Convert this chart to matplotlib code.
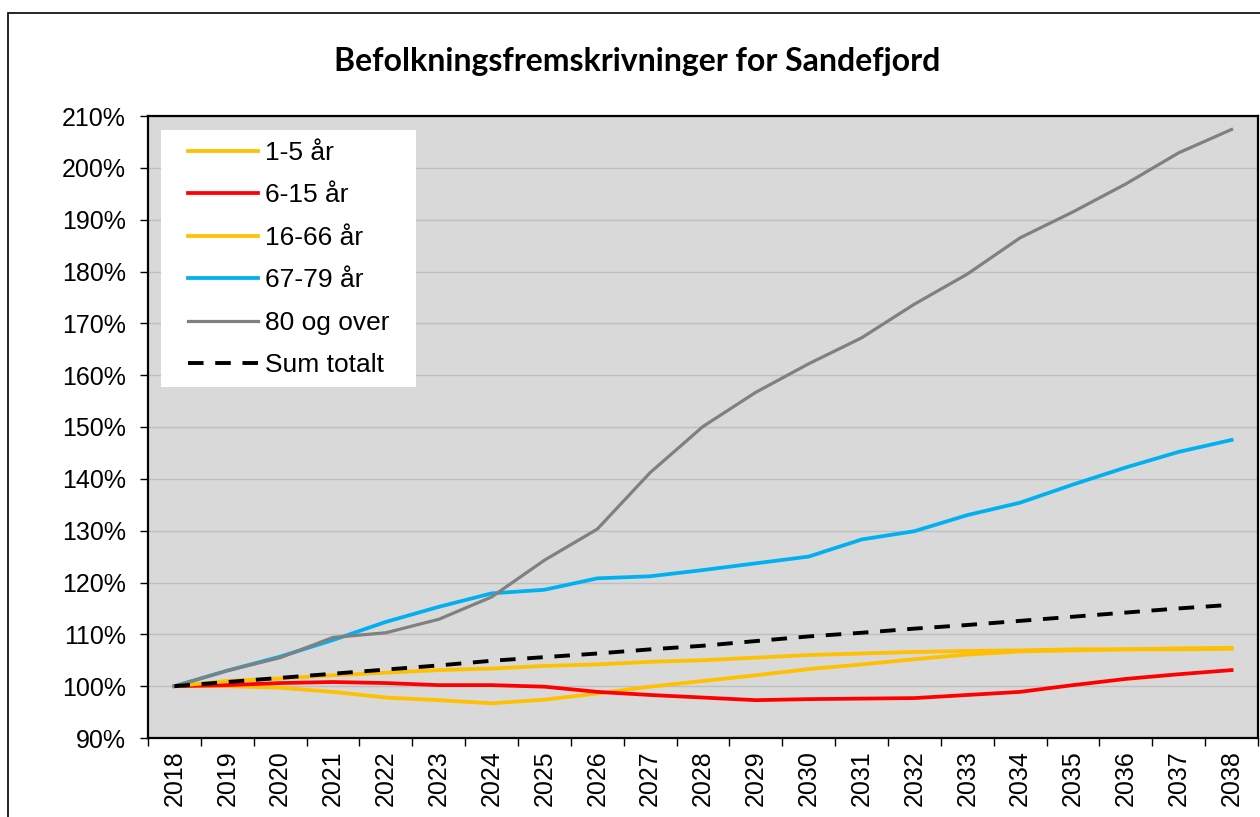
import matplotlib
matplotlib.use('Agg')
import matplotlib.pyplot as plt
import matplotlib.ticker as mticker
from matplotlib.patches import Rectangle
from matplotlib.transforms import IdentityTransform

# ── Data (percent of 2018 level) ──
years = list(range(2018, 2039))

age_1_5 = [100.0, 100.0, 99.7, 98.9, 97.8, 97.3, 96.7, 97.4, 98.6, 99.9, 101.0,
           102.1, 103.3, 104.2, 105.2, 106.1, 106.7, 106.9, 107.1, 107.1, 107.2]
age_6_15 = [100.0, 100.2, 100.6, 100.8, 100.6, 100.2, 100.2, 99.9, 98.9, 98.3, 97.8,
            97.3, 97.5, 97.6, 97.7, 98.3, 98.9, 100.2, 101.4, 102.3, 103.1]
age_16_66 = [100.0, 101.0, 101.5, 102.1, 102.6, 103.1, 103.4, 103.9, 104.2, 104.7, 105.0,
             105.5, 106.0, 106.3, 106.6, 106.8, 106.9, 107.1, 107.1, 107.3, 107.4]
age_67_79 = [100.0, 103.0, 105.7, 108.9, 112.4, 115.3, 117.9, 118.6, 120.8, 121.2, 122.4,
             123.7, 125.0, 128.3, 129.9, 133.0, 135.4, 138.9, 142.2, 145.2, 147.5]
age_80 = [100.0, 103.0, 105.5, 109.4, 110.3, 112.9, 117.2, 124.3, 130.3, 141.2, 150.1,
          156.7, 162.2, 167.2, 173.7, 179.5, 186.5, 191.5, 196.9, 202.9, 207.4]
sum_total = [100.0, 100.8, 101.6, 102.4, 103.2, 104.0, 104.9, 105.6, 106.3, 107.1, 107.8,
             108.7, 109.6, 110.3, 111.1, 111.8, 112.6, 113.4, 114.2, 115.0, 115.7]

YELLOW = '#FFC000'
RED = '#FF0000'
BLUE = '#00B0F0'
GREY = '#808080'
PLOT_BG = '#D9D9D9'
GRID = '#BFBFBF'

plt.rcParams['font.family'] = ['Liberation Sans', 'DejaVu Sans']

fig = plt.figure(figsize=(12.6, 8.17), dpi=100, facecolor='white')
ax = fig.add_axes([148 / 1260, 1 - 738 / 817, 1110 / 1260, 622 / 817])
ax.set_facecolor(PLOT_BG)

# outer chart border (only left/top visible in the crop)
fig.patches.append(Rectangle((8 / 1260, -0.1), 1.2, 1 - 13 / 817 + 0.1,
                             transform=fig.transFigure, fill=False,
                             edgecolor='black', linewidth=1.2, zorder=0))

ax.plot(years, age_1_5, color=YELLOW, lw=2.7, label='1-5 år', zorder=3)
ax.plot(years, age_6_15, color=RED, lw=2.7, label='6-15 år', zorder=3)
ax.plot(years, age_16_66, color=YELLOW, lw=2.7, label='16-66 år', zorder=3)
ax.plot(years, age_67_79, color=BLUE, lw=2.7, label='67-79 år', zorder=3)
ax.plot(years, age_80, color=GREY, lw=2.3, label='80 og over', zorder=3)
ax.plot(years, sum_total, color='black', lw=2.8, dashes=(4, 3),
        label='Sum totalt', zorder=4)

ax.set_xlim(2017.5, 2038.5)
ax.set_ylim(90, 210)
ax.set_yticks(range(90, 211, 10))
ax.yaxis.set_major_formatter(mticker.FuncFormatter(lambda v, p: f'{int(v)}%'))
ax.yaxis.grid(True, color=GRID, linewidth=1.0)
ax.set_axisbelow(True)

ax.set_xticks(years)
ax.set_xticklabels([str(y) for y in years], rotation=90)
ax.set_xticks([y - 0.5 for y in years] + [2038.5], minor=True)
ax.tick_params(axis='x', which='major', length=0, pad=9, labelsize=18)
ax.tick_params(axis='x', which='minor', length=6, width=1, direction='out')
ax.tick_params(axis='y', length=6, width=1, direction='out', labelsize=18, pad=10)

for s in ax.spines.values():
    s.set_color('black')
    s.set_linewidth(1.6)

# legend without frame; white box drawn behind with wider side padding (like Excel)
leg = ax.legend(loc='upper left', bbox_to_anchor=(40 / 1110, 1 - 25 / 622),
                borderaxespad=0, fontsize=19, frameon=False,
                handlelength=2.65, handletextpad=0.25, labelspacing=0.7,
                borderpad=0)
leg.set_zorder(6)
fig.canvas.draw()
bb = leg.get_window_extent()
ax.add_artist(Rectangle((bb.x0 - 27, bb.y0 - 10), bb.width + 54, bb.height + 21,
                        transform=IdentityTransform(), facecolor='white',
                        edgecolor='none', zorder=5.5))

fig.text(637 / 1260, 1 - 61 / 817, 'Befolkningsfremskrivninger for Sandefjord',
         ha='center', va='center', fontsize=23, fontweight='bold',
         family=['Lato', 'DejaVu Sans'])

fig.savefig('out.png', dpi=100, facecolor='white')
